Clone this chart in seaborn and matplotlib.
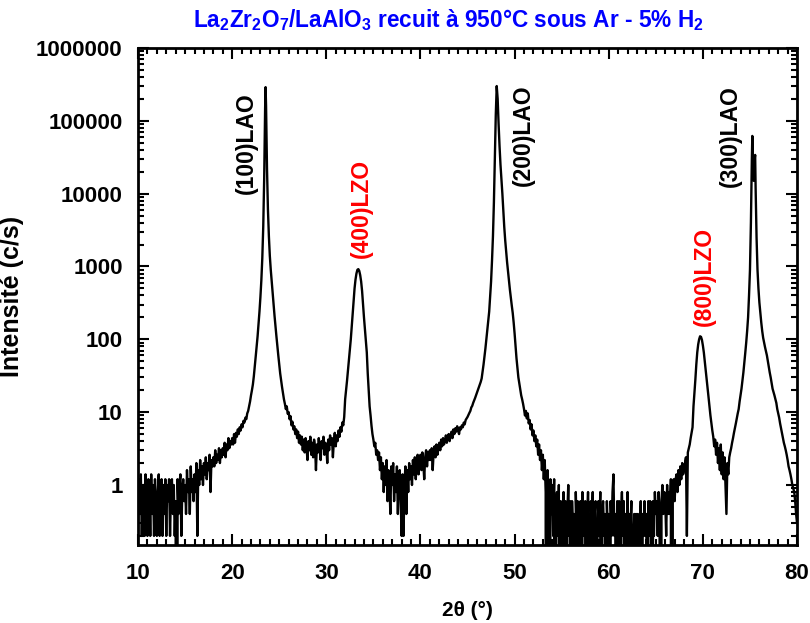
import numpy as np
import pandas as pd
import matplotlib
matplotlib.use('Agg')
import matplotlib.pyplot as plt
import seaborn as sns
from matplotlib.ticker import LogLocator, FixedLocator, MultipleLocator, NullFormatter

# scan data (2theta in degrees, intensity in c/s)
# background stretches are on a 0.1 deg grid, peaks are listed point by point
bg_a_start = 10.0
bg_a = [0.2, 1.2, 0.4, 1.4, 0.2, 0.8, 1.0, 0.2, 1.4, 0.6,
        0.2, 1.2, 0.8, 0.2, 1.4, 0.4, 1.0, 0.2, 1.2, 0.6,
        0.2, 0.8, 1.4, 0.2, 0.6, 1.2, 0.2, 1.0, 0.4, 1.2,
        0.2, 1.0, 0.6, 1.2, 0.2, 0.8, 1.2, 0.4, 1.0, 0.2,
        0.6, 0.0, 1.2, 0.4, 1.0, 1.4, 0.2, 0.8, 1.2, 0.6,
        1.0, 0.4, 1.6, 0.8, 1.2, 0.4, 1.8, 0.8, 1.2, 0.6,
        1.4, 0.8, 2.0, 0.2, 1.6, 1.0, 2.2, 1.2, 1.8, 1.0,
        2.0, 1.4, 2.4, 1.2, 2.0, 1.6, 2.6, 0.8, 2.2, 1.8,
        2.4, 1.8, 3.0, 2.0, 2.6, 2.2, 3.2, 2.0, 3.0, 2.4,
        3.2, 2.6, 3.8, 2.4, 3.6, 3.0, 4.4, 3.2, 4.0, 3.6,
        4.4, 3.6, 5.0, 3.8, 5.2, 4.6, 5.8, 5.0, 6.2, 5.6,
        6.8, 6.2, 7.6, 7.2, 8.4]

peak_100_x = [21.5, 21.6, 21.7, 21.8, 21.9, 22.0, 22.1, 22.2, 22.3, 22.4,
              22.5, 22.6, 22.7, 22.8, 22.9, 23.0, 23.1, 23.2, 23.3, 23.4,
              23.45, 23.5, 23.55, 23.6, 23.65, 23.7, 23.8, 23.9, 24.0, 24.1,
              24.2, 24.3, 24.4, 24.5, 24.6, 24.7, 24.8, 24.9, 25.0, 25.1,
              25.2, 25.3, 25.4, 25.5]
peak_100_y = [8.0, 9.6, 10.4, 12, 14, 17, 20, 24, 31, 42,
              58, 80, 110, 160, 240, 380, 650, 1300, 3500, 16000,
              50000, 150000, 290000, 160000, 60000, 22000, 6000, 2600, 1400, 900,
              620, 420, 300, 210, 150, 110, 80, 60, 45, 34,
              27, 22, 18, 15]

bg_b_start = 25.6
bg_b = [13, 11, 12, 9.5, 10, 8, 8.8, 6.6, 7.4, 5.8,
        6.4, 5.0, 5.8, 4.4, 5.4, 3.8, 4.8, 3.6, 4.6, 3.0,
        4.2, 2.8, 4.4, 3.2, 2.2, 4.0, 3.0, 4.6, 2.6, 3.8,
        2.4, 4.2, 3.4, 1.6, 3.6, 2.8, 4.4, 3.0, 2.2, 4.0,
        3.2, 4.6, 2.6, 3.8, 3.4, 2.0, 4.2, 3.0, 4.8, 3.6,
        4.4, 2.4, 4.0, 5.2, 3.4, 4.8, 4.0, 5.6, 4.6, 6.2,
        5.4, 7.2, 6.6, 8.6]

peak_400_x = [32.0, 32.1, 32.2, 32.3, 32.4, 32.5, 32.6, 32.7, 32.8, 32.9,
              33.0, 33.1, 33.2, 33.3, 33.4, 33.5, 33.6, 33.7, 33.8, 33.9,
              34.0, 34.1, 34.2, 34.3, 34.4, 34.5, 34.6, 34.7, 34.8, 34.9]
peak_400_y = [15, 20, 27, 37, 52, 72, 100, 150, 230, 340,
              500, 660, 800, 900, 920, 870, 760, 620, 460, 300,
              200, 140, 95, 66, 34, 20, 12, 9, 6.5, 5]

bg_c_start = 35.0
bg_c = [4.2, 3.4, 3.8, 2.6, 3.0, 2.2, 2.8, 1.6, 2.4, 1.2,
        2.0, 0.8, 1.8, 1.0, 2.2, 0.6, 1.6, 1.2, 0.4, 1.8,
        1.0, 2.0, 0.6, 1.4, 0.8, 1.8, 0.4, 1.2, 1.6, 0.6,
        0.2, 1.4, 0.2, 1.0, 1.8, 0.4, 1.6, 0.8, 2.0, 1.2,
        1.8, 1.0, 2.2, 1.4, 2.4, 1.2, 2.0, 2.6, 1.4, 2.2,
        2.6, 1.6, 2.8, 2.0, 1.2, 2.4, 3.0, 1.8, 2.8, 2.2,
        3.0, 2.2, 3.2, 1.6, 2.8, 3.4, 2.4, 3.6, 2.6, 3.2,
        3.8, 3.0, 4.2, 3.4, 4.4, 3.6, 4.0, 4.8, 3.8, 4.6,
        5.0, 4.0, 4.8, 5.4, 4.4, 5.8, 5.0, 6.0, 5.4, 6.4,
        5.6, 5.0, 6.2, 5.8, 6.6, 6.2, 7.2, 6.8, 7.8, 8.2,
        8.6, 9.2, 9.8, 10.4, 11.6, 12.2, 13.4, 14.4, 15.6, 17.0,
        18.4]

peak_200_x = [46.1, 46.2, 46.3, 46.4, 46.5, 46.6, 46.7, 46.8, 46.9, 47.0,
              47.1, 47.2, 47.3, 47.4, 47.5, 47.6, 47.7, 47.8, 47.9, 48.0,
              48.1, 48.2, 48.3, 48.4, 48.5, 48.6, 48.7, 48.8, 48.9, 49.0,
              49.1, 49.2, 49.3, 49.4, 49.5, 49.6, 49.7, 49.8, 49.9, 50.0,
              50.1, 50.2, 50.3, 50.4, 50.5, 50.6, 50.7, 50.8, 50.9]
peak_200_y = [20, 22, 24, 26, 29, 36, 45, 58, 75, 100,
              135, 180, 240, 380, 620, 1200, 2600, 7500, 30000, 120000,
              300000, 200000, 90000, 45000, 25000, 16000, 10000, 6000, 3500, 2300,
              1600, 1150, 850, 640, 480, 370, 290, 230, 170, 120,
              80, 55, 40, 30, 25, 21, 17, 15, 13]

bg_d_start = 51.0
bg_d = [11, 9.0, 10.4, 8.2, 9.6, 7.0, 7.8, 5.8, 6.8, 4.8,
        5.6, 4.0, 4.8, 3.4, 4.2, 2.6, 3.6, 2.2, 3.0, 1.6,
        2.6, 1.2, 2.2, 0.8, 0.0, 1.6, 0.6, 0.0, 1.2, 0.4,
        1.0, 0.2, 1.2, 0.0, 0.6, 0.8, 0.2, 1.0, 0.0, 0.6,
        0.4, 0.0, 0.8, 0.2, 0.6, 0.0, 0.4, 1.0, 0.2, 0.6,
        0.0, 0.6, 0.2, 0.4, 0.0, 0.8, 0.2, 0.6, 0.0, 0.4,
        0.6, 0.0, 0.8, 0.2, 0.4, 0.6, 0.0, 0.4, 0.8, 0.2,
        0.0, 0.6, 0.2, 0.8, 0.0, 0.4, 0.6, 0.0, 0.2, 0.6,
        0.2, 0.8, 0.0, 0.4, 0.6, 0.2, 0.4, 0.0, 0.6, 0.2,
        0.4, 0.0, 0.6, 0.2, 0.8, 1.4, 0.2, 0.4, 0.0, 0.6,
        0.2, 0.6, 0.0, 0.4, 0.8, 0.2, 0.6, 0.0, 0.4, 0.2,
        0.8, 0.0, 0.4, 0.2, 0.6, 0.0, 0.2, 0.4, 0.0, 0.4,
        0.2, 0.4, 0.0, 0.2, 0.6, 0.0, 0.4, 0.2, 0.6, 0.2,
        0.4, 0.0, 0.6, 0.2, 0.6, 0.4, 0.0, 0.6, 0.2, 0.8,
        0.4, 0.6, 0.2, 0.8, 0.4, 0.0, 0.6, 1.0, 0.4, 0.8,
        0.6, 0.2, 1.0, 0.4, 0.8, 0.4, 1.2, 0.0, 0.8, 1.2,
        0.6, 1.2, 1.4, 0.8, 1.6, 1.0, 1.8, 1.2, 2.0, 1.4,
        1.6, 2.0, 2.4, 0.2, 2.8, 3.2, 3.6, 4.4, 5.2, 6.2]

peak_800_300_x = [69.0, 69.1, 69.2, 69.3, 69.4, 69.5, 69.6, 69.7, 69.8, 69.9,
                  70.0, 70.1, 70.2, 70.3, 70.4, 70.5, 70.6, 70.7, 70.8, 70.9,
                  71.0, 71.1, 71.2, 71.3, 71.4, 71.5, 71.6, 71.7, 71.8, 71.9,
                  72.0, 72.1, 72.2, 72.3, 72.4, 72.5, 72.6, 72.7, 72.8, 72.9,
                  73.0, 73.1, 73.2, 73.3, 73.4, 73.5, 73.6, 73.7, 73.8, 73.9,
                  74.0, 74.1, 74.2, 74.3, 74.4, 74.5, 74.6, 74.7, 74.8, 74.9,
                  75.0, 75.1, 75.2, 75.25, 75.3, 75.4, 75.5, 75.55, 75.6, 75.7,
                  75.8, 75.9, 76.0, 76.1, 76.2, 76.3, 76.4, 76.5, 76.6, 76.7,
                  76.8, 76.9, 77.0, 77.1, 77.2, 77.3, 77.4, 77.5, 77.6, 77.7,
                  77.8, 77.9, 78.0, 78.1, 78.2, 78.3, 78.4, 78.5, 78.6, 78.7,
                  78.8, 78.9, 79.0, 79.1, 79.2, 79.3, 79.4, 79.5, 79.6, 79.7,
                  79.8, 79.9, 80.0]
peak_800_300_y = [12, 18, 28, 45, 66, 85, 100, 110, 108, 98,
                  82, 66, 50, 37, 28, 22, 16, 12, 9, 7,
                  5.6, 4.6, 3.4, 4.2, 2.6, 3.8, 2.0, 3.2, 1.6, 3.6,
                  1.4, 2.8, 1.2, 2.4, 1.0, 0.4, 2.0, 1.4, 2.4, 2.8,
                  3.2, 3.8, 4.4, 5.2, 6.0, 7.0, 8.2, 9.6, 11, 14,
                  17, 21, 27, 35, 47, 65, 90, 130, 200, 400,
                  900, 4000, 30000, 62000, 30000, 15000, 30000, 34000, 12000, 2500,
                  900, 500, 320, 230, 170, 130, 105, 90, 78, 68,
                  60, 50, 42, 35, 30, 25, 21, 19, 17, 15,
                  13.4, 11, 9.6, 8.4, 7.0, 6.0, 5.2, 4.4, 3.8, 3.4,
                  3.0, 2.6, 2.2, 1.8, 1.6, 1.4, 1.2, 1.0, 0.9, 0.8,
                  0.6, 0.4, 0.3]

peak_labels = ['(100)LAO', '(400)LZO', '(200)LAO', '(800)LZO', '(300)LAO']
label_x = [21.5, 33.7, 50.9, 70.2, 72.9]
label_y = [50000, 6300, 64000, 720, 62000]
label_colors = ['black', 'red', 'black', 'red', 'black']

def grid(start, vals):
    return list(np.round(start + 0.1 * np.arange(len(vals)), 2))

two_theta = (grid(bg_a_start, bg_a) + peak_100_x + grid(bg_b_start, bg_b) + peak_400_x
             + grid(bg_c_start, bg_c) + peak_200_x + grid(bg_d_start, bg_d) + peak_800_300_x)
counts = bg_a + peak_100_y + bg_b + peak_400_y + bg_c + peak_200_y + bg_d + peak_800_300_y
df = pd.DataFrame({'two_theta': two_theta, 'counts': counts})

sns.set_style('ticks')
plt.rcParams['font.family'] = ['Liberation Sans', 'DejaVu Sans']
plt.rcParams['font.weight'] = 'bold'
plt.rcParams['mathtext.fontset'] = 'custom'
plt.rcParams['mathtext.rm'] = 'Liberation Sans:bold'
plt.rcParams['mathtext.it'] = 'Liberation Sans:bold'
plt.rcParams['mathtext.bf'] = 'Liberation Sans:bold'
for key in ['text.color', 'axes.labelcolor', 'xtick.color', 'ytick.color', 'axes.edgecolor']:
    plt.rcParams[key] = 'black'

fig = plt.figure(figsize=(8.1, 6.23), dpi=100)
ax = fig.add_axes([0.1704, 0.1252, 0.8136, 0.7978])
sns.lineplot(data=df, x='two_theta', y='counts', ax=ax, color='black',
             linewidth=1.7, estimator=None, sort=False)
ax.set_yscale('log')
ax.set_xlim(10, 80)
ax.set_ylim(0.15, 1e6)

ax.xaxis.set_major_locator(MultipleLocator(10))
ax.xaxis.set_minor_locator(MultipleLocator(1))
ax.yaxis.set_major_locator(FixedLocator([1, 10, 100, 1000, 10000, 100000, 1000000]))
ax.yaxis.set_minor_locator(LogLocator(base=10, subs=np.arange(2, 10), numticks=20))
ax.yaxis.set_minor_formatter(NullFormatter())
ax.set_yticklabels(['1', '10', '100', '1000', '10000', '100000', '1000000'])
ax.tick_params(which='both', direction='in', top=True, right=True, width=1.5,
               labelsize=16, colors='black')
ax.tick_params(which='major', length=8)
ax.tick_params(which='minor', length=4)
ax.tick_params(axis='y', which='major', pad=11)
ax.tick_params(axis='x', which='major', pad=13)
for s in ax.spines.values():
    s.set_linewidth(2)
    s.set_color('black')

ax.set_xlabel('2θ (°)', fontsize=15, fontweight='bold', labelpad=12)
ax.set_ylabel('Intensité (c/s)', fontsize=18, fontweight='bold', labelpad=9)

for lab, lx, ly, lc in zip(peak_labels, label_x, label_y, label_colors):
    ax.text(lx, ly, lab, rotation=90, ha='center', va='center', color=lc,
            fontsize=16.5, fontweight='bold')

fig.text(0.553, 0.968, 'La$_2$Zr$_2$O$_7$/LaAlO$_3$ recuit à 950°C sous Ar - 5% H$_2$',
         ha='center', va='center', color='blue', fontsize=16.3, fontweight='bold')

plt.savefig('out.png', dpi=100)
